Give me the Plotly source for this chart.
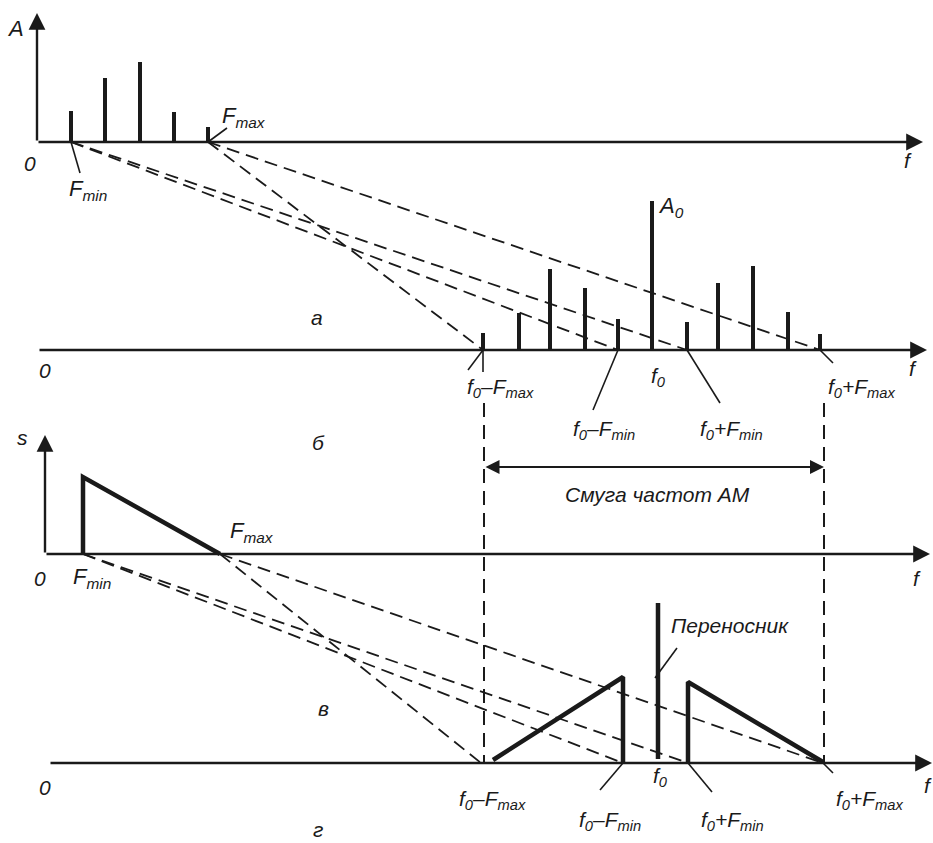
import plotly.graph_objects as go

# ---------------- data (diagram units: horizontal = frequency position, vertical = amplitude) ----
# Panel a: modulating signal line spectrum
base_a = 142
f_a = [71, 105, 140, 174, 208]
amp_a = [31, 64, 80, 30, 15]

# Panel b: AM line spectrum
base_b = 350
f_b = [483, 519, 550, 585, 618, 652, 687, 718, 753, 788, 820]
amp_b = [17, 37, 81, 62, 31, 149, 28, 67, 84, 38, 16]

# Panel c: continuous modulating spectrum (F_min, F_max)
base_c = 554
f_c = [83, 83, 220]
amp_c = [0, 77, 0]

# Panel d: continuous AM spectrum
base_d = 763
lsb_f = [493, 623, 623]
lsb_amp = [3, 86, 0]
carrier_f = [658, 658]
carrier_amp = [4, 160]
usb_f = [688, 688, 823]
usb_amp = [0, 81, 1]

# mapping lines (source freq -> target freq)
map_ab = [(71, 618), (71, 687), (208, 483), (208, 820)]
map_cd = [(83, 623), (83, 688), (220, 481), (220, 823)]
band_edges = [484, 824]

FONT = dict(family="Liberation Sans, Arial, sans-serif", size=21, color="#1a1a1a")
INK = "#1a1a1a"

fig = go.Figure()

def seg_trace(xs, ys, width, dash=None):
    fig.add_trace(go.Scatter(x=xs, y=ys, mode="lines",
                             line=dict(color=INK, width=width, dash=dash),
                             hoverinfo="skip", showlegend=False))

# line spectra
def bars(fs, amps, base, width=4):
    xs, ys = [], []
    for f, a in zip(fs, amps):
        xs += [f, f, None]
        ys += [base, base - a, None]
    seg_trace(xs, ys, width)

bars(f_a, amp_a, base_a)
bars(f_b, amp_b, base_b)

# continuous spectra
seg_trace(f_c, [base_c - a for a in amp_c], 4.5)
seg_trace(lsb_f, [base_d - a for a in lsb_amp], 4.5)
seg_trace(carrier_f, [base_d - a for a in carrier_amp], 4.5)
seg_trace(usb_f, [base_d - a for a in usb_amp], 4.5)

# dashed mapping lines
def maps(pairs, y0, y1):
    xs, ys = [], []
    for s, t in pairs:
        xs += [s, t, None]
        ys += [y0, y1, None]
    seg_trace(xs, ys, 1.8, dash="13px,7px")

maps(map_ab, base_a, base_b)
maps(map_cd, base_c, base_d)

# vertical dashed band edges
xs, ys = [], []
for e in band_edges:
    xs += [e, e, None]
    ys += [403, base_d, None]
seg_trace(xs, ys, 2, dash="14px,8px")

# leader lines (thin)
leaders = [
    ((71, base_a), (80, 173)),
    ((208, base_a), (227, 128)),
    ((618, base_b), (593, 410)),
    ((687, base_b), (720, 403)),
    ((820, base_b), (833, 363)),
    ((483, base_b), (483, 372)),
    ((483, base_b), (468, 370)),
    ((623, base_d), (600, 790)),
    ((688, base_d), (712, 792)),
    ((823, base_d), (833, 773)),
    ((677, 648), (655, 678)),
]
xs, ys = [], []
for (x0, y0), (x1, y1) in leaders:
    xs += [x0, x1, None]
    ys += [y0, y1, None]
seg_trace(xs, ys, 1.6)

# axes with arrows
axes_lines = [
    # (x_tail, y_tail, x_tip, y_tip)
    (37, base_a, 923, base_a),
    (37, base_a, 37, 13),
    (38, base_b, 927, base_b),
    (45, base_c, 930, base_c),
    (45, base_c, 45, 435),
    (49, base_d, 932, base_d),
]
for xt, yt, xh, yh in axes_lines:
    fig.add_annotation(x=xh, y=yh, ax=xt, ay=yt, xref="x", yref="y", axref="x", ayref="y",
                       showarrow=True, arrowhead=2, arrowsize=1.4, arrowwidth=2.4,
                       arrowcolor=INK, standoff=0, text="")

# band double arrow
fig.add_annotation(x=band_edges[1], y=467, ax=band_edges[0], ay=467, xref="x", yref="y",
                   axref="x", ayref="y", showarrow=True, arrowhead=2, arrowside="end+start",
                   arrowsize=1.4, arrowwidth=2, arrowcolor=INK, standoff=0, startstandoff=0, text="")

# text labels
labels = [
    ("A", 15, 28, 22),
    ("0", 30, 163, 21),
    ("F<sub>min</sub>", 88, 190, 22),
    ("F<sub>max</sub>", 244, 117, 22),
    ("f", 908, 160, 21),
    ("A<sub>0</sub>", 671, 207, 22),
    ("а", 317, 317, 21),
    ("0", 45, 370, 21),
    ("f", 913, 368, 21),
    ("f<sub>0</sub>–F<sub>max</sub>", 500, 388, 21),
    ("f<sub>0</sub>–F<sub>min</sub>", 604, 430, 21),
    ("f<sub>0</sub>", 658, 377, 21),
    ("f<sub>0</sub>+F<sub>min</sub>", 731, 430, 21),
    ("f<sub>0</sub>+F<sub>max</sub>", 862, 388, 21),
    ("б", 318, 442, 21),
    ("s", 22, 437, 21),
    ("Смуга частот АМ", 657, 494, 21),
    ("0", 40, 578, 21),
    ("F<sub>min</sub>", 92, 578, 22),
    ("F<sub>max</sub>", 252, 532, 22),
    ("f", 917, 578, 21),
    ("в", 323, 708, 21),
    ("Переносник", 730, 625, 21),
    ("0", 45, 787, 21),
    ("f", 928, 785, 21),
    ("f<sub>0</sub>–F<sub>max</sub>", 492, 800, 21),
    ("f<sub>0</sub>–F<sub>min</sub>", 610, 821, 21),
    ("f<sub>0</sub>", 660, 777, 21),
    ("f<sub>0</sub>+F<sub>min</sub>", 732, 821, 21),
    ("f<sub>0</sub>+F<sub>max</sub>", 870, 800, 21),
    ("г", 318, 829, 21),
]
for txt, x, y, s in labels:
    fig.add_annotation(x=x, y=y, xref="x", yref="y", text="<i>" + txt + "</i>",
                       showarrow=False, font=dict(FONT, size=s), xanchor="center", yanchor="middle")

fig.update_layout(
    width=933, height=843,
    margin=dict(l=0, r=0, t=0, b=0),
    paper_bgcolor="white", plot_bgcolor="white",
    xaxis=dict(range=[0, 933], visible=False, fixedrange=True),
    yaxis=dict(range=[843, 0], visible=False, fixedrange=True),
    showlegend=False,
)

fig.write_html("out.html", config={"displayModeBar": False},
               post_script="document.body.style.margin='0';document.body.style.overflow='hidden';")
